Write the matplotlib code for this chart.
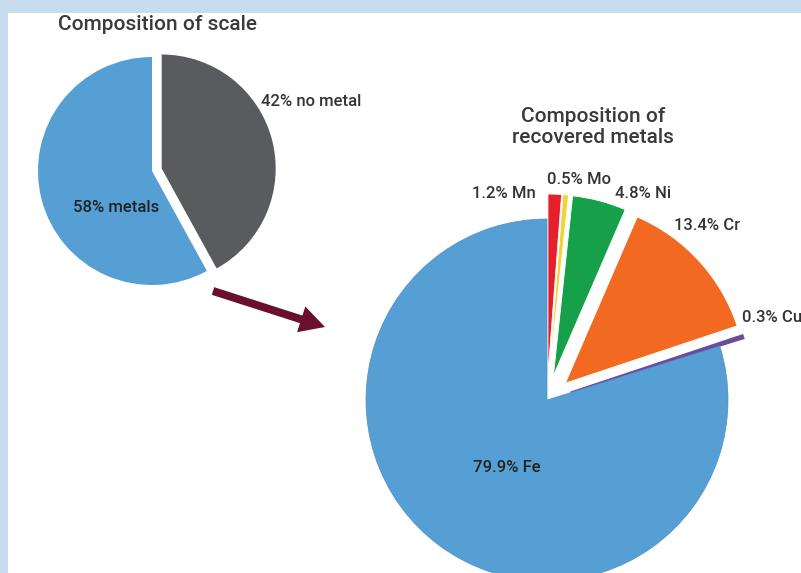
import matplotlib.pyplot as plt
from matplotlib.patches import Rectangle, FancyArrow

# scale composition (left pie), clockwise from 12 o'clock
scale_labels = ["42% no metal", "58% metals"]
scale_values = [42, 58]
scale_colors = ["#5a5b5e", "#559fd5"]

# recovered metals (right pie), clockwise from 12 o'clock
metal_names = ["Mn", "Mo", "Ni", "Cr", "Cu", "Fe"]
metal_values = [1.2, 0.5, 4.8, 13.4, 0.3, 79.9]
metal_colors = ["#e3202b", "#f3d23a", "#16a049", "#f26922", "#6a4c9c", "#559fd5"]

W, H = 801, 573

def py(y):
    # pixel row (from top) -> data y
    return H - y

fig = plt.figure(figsize=(W / 100, H / 100), dpi=100)
fig.patch.set_facecolor("#c8dcf0")
ax = fig.add_axes([0, 0, 1, 1])

# white panel
ax.add_patch(Rectangle((8, 0), W - 8, H - 13, facecolor="white", edgecolor="none", zorder=0))

font = ["Roboto", "DejaVu Sans"]
txt_col = "#333333"

# left pie
r1 = 114
ax.pie(scale_values, colors=scale_colors, startangle=90, counterclock=False,
       center=(152, py(171)), radius=r1, explode=[10, 0],
       wedgeprops=dict(linewidth=0), frame=True)

# right pie
r2 = 181
expl = [25 if n != "Fe" else 0 for n in metal_names]
wedges, _ = ax.pie(metal_values, colors=metal_colors, startangle=90, counterclock=False,
                   center=(547, py(400)), radius=r2, explode=expl,
                   wedgeprops=dict(linewidth=0.6, edgecolor="white"), frame=True)
# Fe gets a faint darker rim, Cu is drawn as a thicker sliver
wedges[-1].set_edgecolor("#4f8fc2")
wedges[-1].set_linewidth(0.5)
wedges[4].set_edgecolor(metal_colors[4])
wedges[4].set_linewidth(1.3)

# titles
ax.text(158, py(25), "Composition of scale", ha="center", va="center",
        fontsize=15, fontweight="medium", color="#3a3a3a", family=font)
ax.text(593, py(127), "Composition of\nrecovered metals", ha="center", va="center",
        fontsize=15, fontweight="medium", color="#3a3a3a", family=font,
        linespacing=1.12)

# left labels
ax.text(311, py(102), scale_labels[0], ha="center", va="center",
        fontsize=12, fontweight="medium", color=txt_col, family=font)
ax.text(116, py(208), scale_labels[1], ha="center", va="center",
        fontsize=12, fontweight="medium", color="#222222", family=font)

# right labels
label_pos = {"Mn": (504, 193), "Mo": (579, 179), "Ni": (643, 193),
             "Cr": (707, 225), "Cu": (772, 317), "Fe": (507, 467)}
for n, v in zip(metal_names, metal_values):
    x, y = label_pos[n]
    ax.text(x, py(y), f"{v}% {n}", ha="center", va="center", fontsize=12,
            fontweight="medium", color="#222222" if n == "Fe" else txt_col,
            family=font)

# arrow between the pies
ax.add_patch(FancyArrow(213, py(291), 112, -36, width=8, head_width=27,
                        head_length=25, length_includes_head=True,
                        color="#6b0f2e", linewidth=0))

ax.set_xlim(0, W)
ax.set_ylim(0, H)
ax.set_aspect("auto")
ax.axis("off")

fig.savefig("out.png", dpi=100, facecolor=fig.get_facecolor())
